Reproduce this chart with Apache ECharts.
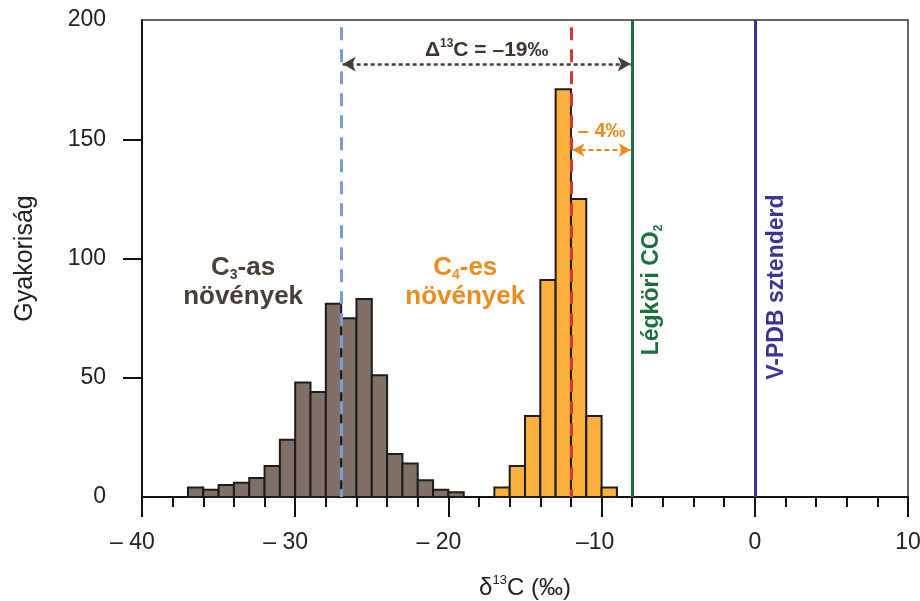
<!DOCTYPE html>
<html><head><meta charset="utf-8">
<script src="https://cdn.jsdelivr.net/npm/echarts@6/dist/echarts.min.js"></script>
<style>html,body{margin:0;padding:0;background:#fff}#c{width:920px;height:601px}</style>
</head><body><div id="c"></div>
<script>
// ---- data ----
const c3BinStart = [-37,-36,-35,-34,-33,-32,-31,-30,-29,-28,-27,-26,-25,-24,-23,-22,-21,-20];
const c3Counts   = [4,3,5,6,8,13,24,48,44,81,75,83,51,18,14,7,3,2];
const c4BinStart = [-17,-16,-15,-14,-13,-12,-11,-10];
const c4Counts   = [4,13,34,91,171,125,34,4];
const binWidth = 1;
const c3Mean = -27;
const c4Mean = -12;
const atmCO2 = -8;
const vpdb = 0;
const deltaLabel = 19;  // Δ13C = –19‰
const c4Offset = 4;     // – 4‰
const xTickValues = [-40,-30,-20,-10,0,10];
const xTickLabels = ['– 40','– 30','– 20','–10','0','10'];
const yTickValues = [0,50,100,150,200];
const yTickLabels = ['0','50','100','150','200'];

const FF = '"Liberation Sans", Arial, sans-serif';
const TICKFS = 23;
const chart = echarts.init(document.getElementById('c'), null, {renderer:'canvas'});

const mctx = document.createElement('canvas').getContext('2d');
mctx.font = TICKFS + 'px "Liberation Sans"';
function prefixWidth(s){ const m = s.match(/^[^0-9]*/); return m ? mctx.measureText(m[0]).width : 0; }

function histData(starts, counts){ return starts.map((s,i)=>[s, s+binWidth, counts[i]]); }
function barRender(fill){
  return function(params, api){
    const p0 = api.coord([api.value(0), api.value(2)]);
    const p1 = api.coord([api.value(1), 0]);
    return {type:'rect', shape:{x:p0[0], y:p0[1], width:p1[0]-p0[0], height:p1[1]-p0[1]},
      style:{fill:fill, stroke:'#1c1c1c', lineWidth:2}};
  };
}
const lblMap = {}; xTickValues.forEach((v,i)=>lblMap[v]=xTickLabels[i]);
const ylblMap = {}; yTickValues.forEach((v,i)=>ylblMap[v]=yTickLabels[i]);

const padRich = {n:{fontSize:TICKFS, fontFamily:FF, color:'#222'}};
xTickLabels.forEach(s=>{ const w = Math.round(prefixWidth(s)); if (w>0) padRich['p'+w] = {width:w, fontSize:TICKFS}; });

chart.setOption({
  animation:false,
  backgroundColor:'#fff',
  grid:{left:142, right:12, top:20, bottom:104, outerBoundsMode:'none', containLabel:false,
    show:true, borderColor:'#333', borderWidth:1.5, backgroundColor:'transparent'},
  xAxis:{type:'value', min:-40, max:10, interval:10,
    name:'{a|δ}{s|13}{a|C (‰)}', nameLocation:'middle', nameGap:77,
    nameTextStyle:{rich:{a:{fontSize:24, fontFamily:FF, color:'#222', lineHeight:28},
                         s:{fontSize:13, fontFamily:FF, color:'#222', verticalAlign:'top', lineHeight:14}}},
    axisLine:{show:true, onZero:false, lineStyle:{color:'#111', width:2}},
    axisTick:{show:true, length:20, lineStyle:{color:'#111', width:2}},
    minorTick:{show:true, splitNumber:5, length:10, lineStyle:{color:'#111', width:2}},
    splitLine:{show:false},
    axisLabel:{margin:34, fontSize:TICKFS, fontFamily:FF, color:'#222', showMinLabel:true, showMaxLabel:true,
      rich:padRich,
      formatter:v=>{
        const s = lblMap[v]; if (s===undefined) return '';
        const w = Math.round(prefixWidth(s));
        return w>0 ? '{n|'+s+'}{p'+w+'|}' : '{n|'+s+'}';
      }
    }
  },
  yAxis:{type:'value', min:0, max:200, interval:50,
    name:'Gyakoriság', nameLocation:'middle', nameGap:104, nameRotate:90,
    nameTextStyle:{fontSize:25, fontFamily:FF, color:'#222'},
    axisLine:{show:true, onZero:false, lineStyle:{color:'#111', width:2}},
    axisTick:{show:true, length:19, customValues:[50,100,150], lineStyle:{color:'#111', width:2}},
    splitLine:{show:false},
    axisLabel:{margin:36, fontSize:TICKFS, fontFamily:FF, color:'#222', showMinLabel:true, showMaxLabel:true,
      formatter:v=>ylblMap[v]!==undefined?ylblMap[v]:''}
  },
  series:[
    {type:'custom', name:'C3', renderItem:barRender('#807168'), data:histData(c3BinStart,c3Counts), z:2,
      encode:{x:[0,1], y:2}},
    {type:'custom', name:'C4', renderItem:barRender('#fbb040'), data:histData(c4BinStart,c4Counts), z:2,
      encode:{x:[0,1], y:2}},
    {type:'line', name:'refs', data:[], z:5, silent:true,
      markLine:{silent:true, symbol:'none', animation:false, label:{show:false},
        data:[
          [{coord:[c3Mean,197], lineStyle:{color:'#7b9bd3', width:3, type:[13,9]}},{coord:[c3Mean,0]}],
          [{coord:[c4Mean,197], lineStyle:{color:'#d23a2e', width:3, type:[13,9]}},{coord:[c4Mean,0]}],
          {xAxis:atmCO2, lineStyle:{color:'#1d6f3e', width:3, type:'solid'}},
          {xAxis:vpdb, lineStyle:{color:'#3c3596', width:3, type:'solid'}}
        ]}},
    {type:'line', name:'delta', data:[], z:6, silent:true,
      markLine:{silent:true, symbol:['arrow','arrow'], symbolSize:[11,13], animation:false,
        lineStyle:{color:'#4b3c33', width:2.5, type:[4,3]},
        label:{show:true, position:'middle', distance:2, formatter:'{b|Δ}{s|13}{b|C = –'+deltaLabel+'‰}',
          rich:{b:{fontSize:21, fontWeight:'bold', fontFamily:FF, color:'#3f332c', lineHeight:24},
                s:{fontSize:12, fontWeight:'bold', fontFamily:FF, color:'#3f332c', verticalAlign:'top', lineHeight:13}}},
        data:[[{coord:[c3Mean+0.1,181.5]},{coord:[atmCO2-0.1,181.5]}]]}},
    {type:'line', name:'c4off', data:[], z:6, silent:true,
      markLine:{silent:true, symbol:['arrow','arrow'], symbolSize:[10,12], animation:false,
        lineStyle:{color:'#ee8a1f', width:2, type:[5,3]},
        label:{show:true, position:'middle', distance:8, formatter:'– '+c4Offset+'‰',
          fontSize:20, fontWeight:'bold', fontFamily:FF, color:'#ee8a1f'},
        data:[[{coord:[c4Mean+0.1,145.5]},{coord:[atmCO2-0.1,145.5]}]]}}
  ]
});

function px(x,y){ return chart.convertToPixel({gridIndex:0}, [x,y]); }
const p3 = px(-33.4, 90), p4 = px(-18.9, 90), pg = px(-6.7, 86.8), pv = px(1.4, 88);
function plantText(sub, suffix){
  return '{a|C}{s|'+sub+'}{a|'+suffix+'}\n{a|növények}';
}
function richPlant(color){
  return {a:{fontSize:26, fontWeight:'bold', fontFamily:FF, fill:color, lineHeight:29},
          s:{fontSize:14, fontWeight:'bold', fontFamily:FF, fill:color, verticalAlign:'bottom', lineHeight:14}};
}
function richRot(color){
  return {a:{fontSize:23, fontWeight:'bold', fontFamily:FF, fill:color, lineHeight:26},
          s:{fontSize:12, fontWeight:'bold', fontFamily:FF, fill:color, verticalAlign:'bottom', lineHeight:12}};
}
chart.setOption({graphic:[
  {type:'text', x:p3[0], y:p3[1], z:10, style:{text:plantText('3','-as'), rich:richPlant('#4b3e37'), align:'center', verticalAlign:'middle', fill:'#4b3e37'}},
  {type:'text', x:p4[0], y:p4[1], z:10, style:{text:plantText('4','-es'), rich:richPlant('#ec8b1e'), align:'center', verticalAlign:'middle', fill:'#ec8b1e'}},
  {type:'text', x:pg[0], y:pg[1], rotation:Math.PI/2, z:10, style:{text:'{a|Légköri CO}{s|2}', rich:richRot('#1d6f3e'), align:'center', verticalAlign:'middle', fill:'#1d6f3e'}},
  {type:'text', x:pv[0], y:pv[1], rotation:Math.PI/2, z:10, style:{text:'{a|V-PDB sztenderd}', rich:richRot('#3c3596'), align:'center', verticalAlign:'middle', fill:'#3c3596'}}
]});
</script>
</body></html>
